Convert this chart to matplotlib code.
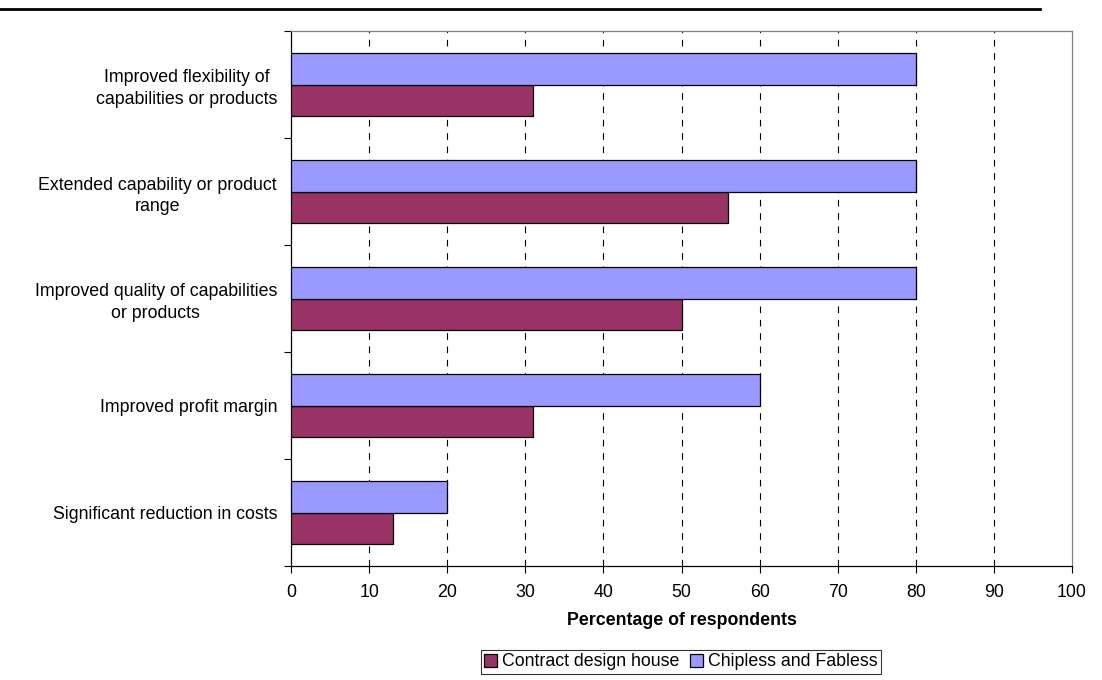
import matplotlib.pyplot as plt
from matplotlib.lines import Line2D
import numpy as np

plt.rcParams["font.family"] = ["Liberation Sans", "DejaVu Sans"]

categories = ["Significant reduction in costs", "Improved profit margin",
              "Improved quality of capabilities\nor products",
              "Extended capability or product\nrange",
              "Improved flexibility of\ncapabilities or products"]
contract = [13, 31, 50, 56, 31]
chipless = [20, 60, 80, 80, 80]
xticks = np.arange(0, 101, 10)

fs = 12.8

fig = plt.figure(figsize=(11.02, 6.8), dpi=100)
ax = fig.add_axes([291 / 1102, 1 - 566 / 680, 781 / 1102, 535 / 680])

y = np.arange(len(categories))
h = 0.29
ax.barh(y - h / 2, contract, height=h, color="#993366", edgecolor="black",
        linewidth=0.9, label="Contract design house", zorder=3)
ax.barh(y + h / 2, chipless, height=h, color="#9999FF", edgecolor="black",
        linewidth=0.9, label="Chipless and Fabless", zorder=3)

ax.set_xlim(0, 100)
ax.set_ylim(-0.5, len(categories) - 0.5)
ax.set_xticks(xticks)
ax.set_xticklabels([str(v) for v in xticks], fontsize=fs)
ax.set_yticks(y)
ax.set_yticklabels(categories, fontsize=fs, linespacing=1.35)
for t in ax.get_yticklabels():
    t.set_multialignment("center")
ax.set_yticks(np.arange(-0.5, len(categories)), minor=True)
ax.tick_params(axis="y", which="major", length=0, pad=10)
ax.tick_params(axis="y", which="minor", length=5, width=0.8, direction="out")
ax.tick_params(axis="x", length=5, width=0.8, direction="out", pad=8)

for v in xticks[1:-1]:
    ax.axvline(v, color="black", linestyle=(0, (6, 6)), linewidth=0.8, zorder=1)

ax.spines["left"].set_color("black")
ax.spines["bottom"].set_color("black")
ax.spines["top"].set_color("#808080")
ax.spines["right"].set_color("#808080")
for s in ax.spines.values():
    s.set_linewidth(0.9)

ax.set_xlabel("Percentage of respondents", fontsize=fs, fontweight="bold", labelpad=8)

handles, labels = ax.get_legend_handles_labels()
leg = fig.legend(handles, labels, loc="center", bbox_to_anchor=(681 / 1102, 1 - 662 / 680),
                 ncol=2, fontsize=fs, frameon=True, fancybox=False, edgecolor="black",
                 handlelength=0.7, handleheight=0.7, handletextpad=0.3,
                 columnspacing=0.6, borderpad=0.2, borderaxespad=0)
leg.get_frame().set_linewidth(0.8)

fig.add_artist(Line2D([0, 1040 / 1102], [1 - 8.5 / 680] * 2, color="black", linewidth=2))

fig.savefig("out.png", dpi=100)
